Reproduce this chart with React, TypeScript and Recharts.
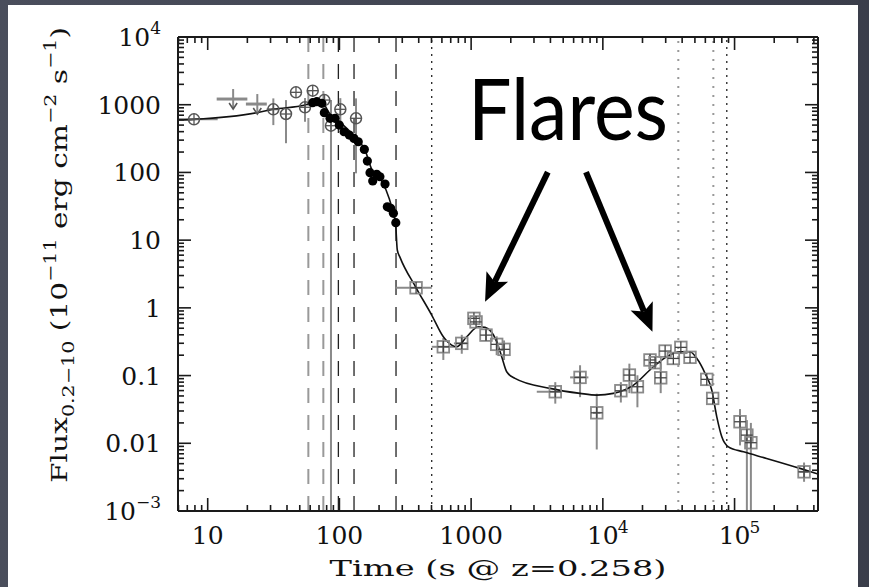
import React from "react";
import {
  ComposedChart,
  Line,
  Scatter,
  XAxis,
  YAxis,
  ErrorBar,
  ReferenceLine,
} from "recharts";

// model light curve (solid line), time in s, flux in 1e-11 erg/cm2/s
const modelTime = [5.95, 7.87, 23.7, 31.3, 54.8, 67.3, 71.3, 84.9, 101.2, 131.5, 156.5, 177, 203, 226, 251, 267, 275, 288, 382, 502, 615, 712, 778, 926, 1135, 1276, 1565, 1707, 1862, 2153, 3970, 6710, 8990, 12000, 17100, 24200, 30500, 38500, 45900, 51600, 59700, 67100, 73300, 80000, 89800, 117000, 175000, 314000, 430000];
const modelFlux = [594, 608, 762, 855, 990, 1145, 1172, 729, 555, 333, 214, 108, 82.7, 55, 29.8, 17.7, 7.15, 5.62, 1.98, 0.783, 0.374, 0.282, 0.266, 0.374, 0.526, 0.515, 0.316, 0.19, 0.114, 0.091, 0.0647, 0.0546, 0.0515, 0.0546, 0.0724, 0.135, 0.19, 0.225, 0.225, 0.18, 0.108, 0.0611, 0.0246, 0.0125, 0.00887, 0.00748, 0.00598, 0.00426, 0.00351];

// open circles (early data)
const circTime = [7.87, 31.5, 39.3, 46.8, 54.8, 62.7, 76.8, 86.3, 101.6, 133.7];
const circFlux = [608, 855, 729, 1524, 916, 1612, 1172, 490, 855, 630];
const circTimeErr = [[5.95, 11.9], [28, 35], null, null, null, null, null, null, null, null];
const circFluxErr = [null, [500, 1240], [270, 1170], null, [560, 1255], null, [830, 1400], [1e-3, 1170], [480, 1250], [97, 1240]];

// filled dots (steep decay)
const dotTime = [62.7, 67.3, 73.5, 76.8, 84.9, 92.7, 99.8, 108.4, 118.9, 129, 139, 154.6, 163, 170.7, 179, 192, 203, 222, 231, 245, 257, 268];
const dotFlux = [1072, 1107, 1047, 763, 630, 630, 501, 399, 356, 318, 284, 219, 147, 99, 75, 94, 86.4, 67.4, 31.1, 29.5, 24.9, 18.1];

// open squares (later data)
const sqTime = [382, 615, 849, 1050, 1090, 1297, 1563, 1778, 4354, 6714, 8990, 13700, 15900, 18300, 22800, 24900, 27500, 29700, 34300, 39100, 45900, 61500, 68200, 110000, 124000, 133000, 337000];
const sqFlux = [1.98, 0.266, 0.299, 0.7, 0.62, 0.396, 0.289, 0.244, 0.0577, 0.094, 0.0282, 0.0597, 0.1017, 0.0684, 0.17, 0.155, 0.0927, 0.23, 0.179, 0.261, 0.186, 0.0879, 0.046, 0.0208, 0.0132, 0.0102, 0.00379];
const sqTimeErr = [[267, 502], [502, 755], [740, 950], null, null, null, null, null, [3150, 4880], [5640, 7770], [8400, 9600], null, null, null, null, null, null, null, null, null, null, null, null, null, null, null, [310000, 365000]];
const sqFluxErr = [null, [0.17, 0.358], [0.21, 0.4], null, null, [0.33, 0.48], [0.2, 0.38], [0.17, 0.33], [0.0385, 0.08], [0.048, 0.142], [0.0081, 0.054], [0.04, 0.08], [0.055, 0.15], [0.034, 0.101], [0.12, 0.21], null, [0.055, 0.15], null, null, null, null, null, null, [0.0093, 0.032], [1e-3, 0.022], [1e-3, 0.02], [0.0027, 0.0052]];

// upper limits
const limTime = [15.6, 23.8];
const limFlux = [1213, 1023];
const limTimeErr = [[11.7, 20.0], [19.5, 28.1]];

// vertical markers
const grayDashed = [58.1, 75.5];
const blackDashed = [98.2, 129.1, 269];
const blackDotted = [502, 87300];
const grayDotted = [37400, 69000];

// "Flares" arrows (from, to)
const arrowFrom = [[3820, 101], [7450, 101]];
const arrowTo = [[1276, 1.23], [23800, 0.443]];

// major tick labels
const xMajor = [10, 100, 1000, 1e4, 1e5];
const xMajorBase = ["10", "100", "1000", "10", "10"];
const xMajorExp = ["", "", "", "4", "5"];
const yMajor = [1e-3, 0.01, 0.1, 1, 10, 100, 1000, 1e4];
const yMajorBase = ["10", "0.01", "0.1", "1", "10", "100", "1000", "10"];
const yMajorExp = ["\u22123", "", "", "", "", "", "", "4"];

const X_DOMAIN = [5.95, 430000];
const Y_DOMAIN = [1e-3, 1e4];

const decadeTicks = (from: number, to: number) => {
  const out: number[] = [];
  for (let d = from; d <= to; d++)
    for (let k = 1; k <= 9; k++) out.push(Number((k * Math.pow(10, d)).toPrecision(2)));
  return out;
};
const xTicks = decadeTicks(0, 5).filter((v) => v >= 6 && v <= 430000);
const yTicks = [...decadeTicks(-3, 3), 1e4];

const span = (v: number, e: number[] | null) => (e ? [v - e[0], e[1] - v] : null);

const modelData = modelTime.map((t, i) => ({ t, f: modelFlux[i] }));
const circData = circTime.map((t, i) => ({
  t,
  f: circFlux[i],
  ex: span(t, circTimeErr[i]),
  ey: span(circFlux[i], circFluxErr[i]),
}));
const dotData = dotTime.map((t, i) => ({ t, f: dotFlux[i] }));
const sqData = sqTime.map((t, i) => ({
  t,
  f: sqFlux[i],
  ex: span(t, sqTimeErr[i]),
  ey: span(sqFlux[i], sqFluxErr[i]),
}));
const limData = limTime.map((t, i) => ({ t, f: limFlux[i], ex: span(t, limTimeErr[i]) }));

const AXIS = "#1a1a1a";
const FONT = "DejaVu Serif";
const GRAY = "#8a8a8a";

const findMajor = (list: number[], v: number) => list.findIndex((m) => Math.abs(m / v - 1) < 1e-6);

function BottomTick(p: any) {
  const { x, y, payload } = p;
  const i = findMajor(xMajor, payload.value);
  const major = i >= 0;
  return (
    <g>
      <line x1={x} y1={y} x2={x} y2={y - (major ? 13 : 6)} stroke={AXIS} strokeWidth={1.6} />
      {major && (
        <g fontFamily={FONT} fill="#111">
          <text x={x} y={y + 33} textAnchor="middle" fontSize={25}>
            {xMajorBase[i]}
          </text>
          {xMajorExp[i] && (
            <text x={x + 15} y={y + 22} fontSize={17}>
              {xMajorExp[i]}
            </text>
          )}
        </g>
      )}
    </g>
  );
}

function TopTick(p: any) {
  const { x, y, payload } = p;
  const major = findMajor(xMajor, payload.value) >= 0;
  return <line x1={x} y1={y} x2={x} y2={y + (major ? 13 : 6)} stroke={AXIS} strokeWidth={1.6} />;
}

function LeftTick(p: any) {
  const { x, y, payload } = p;
  const i = findMajor(yMajor, payload.value);
  const major = i >= 0;
  return (
    <g>
      <line x1={x} y1={y} x2={x + (major ? 13 : 6)} y2={y} stroke={AXIS} strokeWidth={1.6} />
      {major && (
        <text x={x - 17} y={y + 9} textAnchor="end" fontFamily={FONT} fontSize={25} fill="#111">
          {yMajorBase[i]}
          {yMajorExp[i] && (
            <tspan fontSize={17} dy={-12}>
              {yMajorExp[i]}
            </tspan>
          )}
        </text>
      )}
    </g>
  );
}

function RightTick(p: any) {
  const { x, y, payload } = p;
  const major = findMajor(yMajor, payload.value) >= 0;
  return <line x1={x} y1={y} x2={x - (major ? 13 : 6)} y2={y} stroke={AXIS} strokeWidth={1.6} />;
}

function XTitle(p: any) {
  const vb = p.viewBox || { x: 178, y: 511, width: 640 };
  const cx = vb.x + vb.width / 2;
  return (
    <text x={cx} y={vb.y + 65} textAnchor="middle" fontFamily={FONT} fontSize={23} fill="#111" textLength={337} lengthAdjust="spacingAndGlyphs">
      Time (s @ z=0.258)
    </text>
  );
}

function YTitle(p: any) {
  const vb = p.viewBox || { x: 78, y: 37, width: 100, height: 474 };
  const cx = vb.x - 11;
  const cy = vb.y + vb.height / 2 - 19;
  return (
    <text x={cx} y={cy} transform={`rotate(-90 ${cx} ${cy})`} textAnchor="middle" fontFamily={FONT} fontSize={23} fill="#111" textLength={456} lengthAdjust="spacingAndGlyphs">
      Flux
      <tspan fontSize={16} dy={7}>0.2{"\u2212"}10</tspan>
      <tspan dy={-7}>{"  (10"}</tspan>
      <tspan fontSize={16} dy={-11}>{"\u221211"}</tspan>
      <tspan dy={11}>{"  erg  cm"}</tspan>
      <tspan fontSize={16} dy={-11}>{"\u22122"}</tspan>
      <tspan dy={11}>{"  s"}</tspan>
      <tspan fontSize={16} dy={-11}>{"\u22121"}</tspan>
      <tspan dy={11}>)</tspan>
    </text>
  );
}

function OpenCircle(p: any) {
  const { cx, cy } = p;
  if (cx == null || cy == null) return null;
  const r = 5.5;
  return (
    <g stroke="#555" fill="none">
      <circle cx={cx} cy={cy} r={r} strokeWidth={1.5} />
      <line x1={cx - r} y1={cy} x2={cx + r} y2={cy} strokeWidth={1.3} />
      <line x1={cx} y1={cy - r} x2={cx} y2={cy + r} strokeWidth={1.3} />
    </g>
  );
}

function FilledDot(p: any) {
  const { cx, cy } = p;
  if (cx == null || cy == null) return null;
  return <circle cx={cx} cy={cy} r={4.6} fill="#000" />;
}

function OpenSquare(p: any) {
  const { cx, cy } = p;
  if (cx == null || cy == null) return null;
  const h = 5.8;
  return (
    <g fill="none">
      <rect x={cx - h} y={cy - h} width={2 * h} height={2 * h} stroke={GRAY} strokeWidth={1.8} />
      <line x1={cx - h} y1={cy} x2={cx + h} y2={cy} stroke="#444" strokeWidth={1.3} />
      <line x1={cx} y1={cy - h} x2={cx} y2={cy + h} stroke="#444" strokeWidth={1.3} />
    </g>
  );
}

function UpperLimit(p: any) {
  const { cx, cy } = p;
  if (cx == null || cy == null) return null;
  return (
    <g stroke="#555" fill="none" strokeWidth={1.6}>
      <line x1={cx} y1={cy - 10} x2={cx} y2={cy + 10} stroke={GRAY} strokeWidth={2} />
      <polyline points={`${cx - 4},${cy + 4} ${cx},${cy + 10} ${cx + 4},${cy + 4}`} />
    </g>
  );
}

function FlareArrow(p: any) {
  const { x1, y1, x2, y2 } = p;
  if ([x1, y1, x2, y2].some((v) => v == null || Number.isNaN(v))) return null;
  const dx = x2 - x1;
  const dy = y2 - y1;
  const len = Math.hypot(dx, dy);
  const ux = dx / len;
  const uy = dy / len;
  const head = 28;
  const half = 12;
  const bx = x2 - ux * head;
  const by = y2 - uy * head;
  const nx = x2 - ux * (head - 6);
  const ny = y2 - uy * (head - 6);
  return (
    <g>
      <line x1={x1} y1={y1} x2={nx} y2={ny} stroke="#000" strokeWidth={6} />
      <polygon
        points={`${x2},${y2} ${bx - uy * half},${by + ux * half} ${nx},${ny} ${bx + uy * half},${by - ux * half}`}
        fill="#000"
      />
    </g>
  );
}

const axisLine = { stroke: AXIS, strokeWidth: 2 };

export default function App() {
  return (
    <div
      style={{
        position: "absolute",
        left: 0,
        top: 0,
        width: 869,
        height: 587,
        overflow: "hidden",
        background: "linear-gradient(90deg, #4a4e5c, #3a3d4a)",
      }}
    >
      <div style={{ position: "absolute", left: 8, top: 5, width: 850, height: 582, background: "#fff" }} />
      <div style={{ position: "absolute", left: 0, top: 0 }}>
        <ComposedChart width={869} height={587} margin={{ top: 36, right: 50, bottom: 16, left: 78 }}>
          <XAxis
            dataKey="t"
            type="number"
            scale="log"
            domain={X_DOMAIN}
            allowDataOverflow
            ticks={xTicks}
            interval={0}
            tick={<BottomTick />}
            tickLine={false}
            tickSize={0}
            tickMargin={0}
            axisLine={axisLine}
            height={60}
            label={<XTitle />}
          />
          <XAxis
            xAxisId="top"
            orientation="top"
            dataKey="t"
            type="number"
            scale="log"
            domain={X_DOMAIN}
            allowDataOverflow
            ticks={xTicks}
            interval={0}
            tick={<TopTick />}
            tickLine={false}
            tickSize={0}
            tickMargin={0}
            axisLine={axisLine}
            height={1}
          />
          <YAxis
            type="number"
            scale="log"
            domain={Y_DOMAIN}
            allowDataOverflow
            ticks={yTicks}
            interval={0}
            tick={<LeftTick />}
            tickLine={false}
            tickSize={0}
            tickMargin={0}
            axisLine={axisLine}
            width={100}
            label={<YTitle />}
          />
          <YAxis
            yAxisId="right"
            orientation="right"
            type="number"
            scale="log"
            domain={Y_DOMAIN}
            allowDataOverflow
            ticks={yTicks}
            interval={0}
            tick={<RightTick />}
            tickLine={false}
            tickSize={0}
            tickMargin={0}
            axisLine={axisLine}
            width={1}
          />

          {grayDashed.map((t) => (
            <ReferenceLine key={`gd${t}`} x={t} stroke="#999" strokeWidth={2} strokeDasharray="15 12" />
          ))}
          {blackDashed.map((t) => (
            <ReferenceLine key={`bd${t}`} x={t} stroke="#222" strokeWidth={1.3} strokeDasharray="15 12" />
          ))}
          {blackDotted.map((t) => (
            <ReferenceLine key={`bt${t}`} x={t} stroke="#222" strokeWidth={1.3} strokeDasharray="2 5" />
          ))}
          {grayDotted.map((t) => (
            <ReferenceLine key={`gt${t}`} x={t} stroke="#999" strokeWidth={2} strokeDasharray="2 7" />
          ))}

          <Scatter data={circData} dataKey="f" shape={<OpenCircle />} isAnimationActive={false}>
            <ErrorBar dataKey="ex" direction="x" width={0} stroke={GRAY} strokeWidth={2} isAnimationActive={false} />
            <ErrorBar dataKey="ey" direction="y" width={0} stroke={GRAY} strokeWidth={2} isAnimationActive={false} />
          </Scatter>
          <Scatter data={limData} dataKey="f" shape={<UpperLimit />} isAnimationActive={false}>
            <ErrorBar dataKey="ex" direction="x" width={0} stroke={GRAY} strokeWidth={3} isAnimationActive={false} />
          </Scatter>
          <Scatter data={sqData} dataKey="f" shape={<OpenSquare />} isAnimationActive={false}>
            <ErrorBar dataKey="ex" direction="x" width={0} stroke={GRAY} strokeWidth={2} isAnimationActive={false} />
            <ErrorBar dataKey="ey" direction="y" width={0} stroke={GRAY} strokeWidth={2} isAnimationActive={false} />
          </Scatter>
          <Scatter data={dotData} dataKey="f" shape={<FilledDot />} isAnimationActive={false} />

          <Line
            data={modelData}
            dataKey="f"
            type="monotone"
            stroke="#111"
            strokeWidth={1.6}
            dot={false}
            activeDot={false}
            isAnimationActive={false}
          />
          {/* invisible copy bound to the top/right axes so the frame is drawn on all four sides */}
          <Line
            data={modelData}
            dataKey="f"
            xAxisId="top"
            yAxisId="right"
            stroke="none"
            dot={false}
            activeDot={false}
            isAnimationActive={false}
          />

          {arrowFrom.map((a, i) => (
            <ReferenceLine
              key={`arrow${i}`}
              segment={[
                { x: a[0], y: a[1] },
                { x: arrowTo[i][0], y: arrowTo[i][1] },
              ]}
              shape={<FlareArrow />}
            />
          ))}
        </ComposedChart>
      </div>
      <svg style={{ position: "absolute", left: 0, top: 0, pointerEvents: "none" }} width={869} height={587}>
        <text x={568} y={140} textAnchor="middle" fontFamily="Lato" fontSize={86} fill="#000" textLength={200} lengthAdjust="spacingAndGlyphs">
          Flares
        </text>
      </svg>
    </div>
  );
}
